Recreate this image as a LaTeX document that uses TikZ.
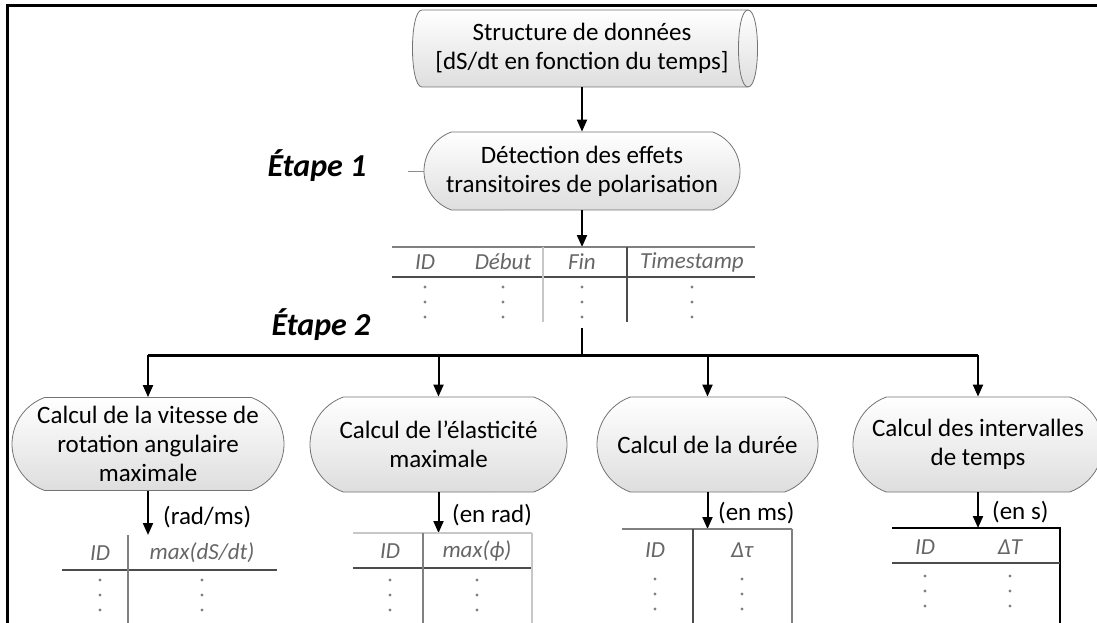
\documentclass[tikz,border=0pt]{standalone}
\usepackage{fontspec}
\setmainfont{Carlito}
\usetikzlibrary{shapes.misc,arrows.meta}
\newcommand\vdt[2]{\foreach \dy in {-15,0,15}{\fill[black!50] (#1,#2+\dy) circle (1.6);}}
\begin{document}
\begin{tikzpicture}[x=1pt,y=-1pt,
  term/.style={rounded rectangle, rounded rectangle arc length=140, draw=black!55, line width=0.8pt,
    top color=white, bottom color=black!13, align=center,
    font=\fontsize{25}{29}\selectfont, inner sep=0pt},
  arr/.style={-{Triangle[length=12pt,width=10pt]}, line width=2pt},
  hd/.style={font=\fontsize{23}{25}\selectfont\itshape, text=black!60, inner sep=0pt},
  unit/.style={font=\fontsize{25}{27}\selectfont, anchor=west, inner sep=0pt},
  etape/.style={font=\fontsize{32}{34}\selectfont\bfseries\itshape, inner sep=0pt},
  light/.style={draw=black!22, line width=2pt},
  mid/.style={draw=black!50, line width=2pt},
  dark/.style={draw=black!70, line width=2.5pt}
]
\useasboundingbox (0,0) rectangle (1097,623);
% frame
\draw[line width=3pt] (1097,6) -- (7,6) -- (7,623);

% data structure (cylinder)
\draw[draw=black!55, line width=0.8pt, top color=white, bottom color=black!13]
  (422,10) -- (748,10) .. controls (760.7,10) and (760.7,87) .. (748,87)
  -- (422,87) .. controls (409.3,87) and (409.3,10) .. (422,10) -- cycle;
\draw[draw=black!55, line width=0.8pt] (748,10) .. controls (735.3,10) and (735.3,87) .. (748,87);
\node[align=center, font=\fontsize{25}{29}\selectfont, minimum width=346pt, minimum height=77pt, inner sep=0pt]
  (data) at (582,48.5) {Structure de données\\{}[dS/dt en fonction du temps]};

% step 1
\node[term, minimum width=316pt, minimum height=78pt] (detect) at (582,171)
  {Détection des effets\\transitoires de polarisation};
\node[etape] (e1) at (317,166) {Étape 1};
\draw[draw=black!45, line width=1pt] (detect.west) -- ++(-16,0);
\draw[arr] (data.south) -- (detect.north);

% table 1
\coordinate (t1top) at (582,247);
\draw[arr] (detect.south) -- (t1top);
\draw[mid] (392,247) -- (755,247);
\draw[dark] (392,277) -- (755,277);
\draw[light] (543,247) -- (543,322);
\draw[dark, line width=2pt] (627,247) -- (627,322);
\node[hd] (c1) at (425,262) {ID};
\node[hd] (c2) at (503,262) {Début};
\node[hd] (c3) at (582,262) {Fin};
\node[hd] (c4) at (692,262) {Timestamp};
\vdt{425}{302}\vdt{503}{302}\vdt{582}{302}\vdt{692}{302}

% step 2
\node[etape] (e2) at (321,325) {Étape 2};
\coordinate (b0) at (582,328);
\coordinate (bj) at (582,355);
\node[term, minimum width=272pt, minimum height=93pt] (k1) at (148,444)
  {Calcul de la vitesse de\\rotation angulaire\\maximale};
\node[term, minimum width=257pt, minimum height=95pt] (k2) at (438.5,444.5)
  {Calcul de l'élasticité\\maximale};
\node[term, minimum width=221pt, minimum height=95pt] (k3) at (707.5,444.5)
  {Calcul de la durée};
\node[term, minimum width=250pt, minimum height=95pt] (k4) at (978,444.5)
  {Calcul des intervalles\\de temps};
\draw[line width=2.5pt] (b0) -- (bj);
\draw[line width=3pt] (k1.north |- bj) -- (k4.north |- bj);
\foreach \k in {k1,k2,k3,k4}{\draw[arr] (\k.north |- bj) -- (\k.north);}

% outputs of k1
\coordinate (o1) at (148,535);
\draw[arr] (k1.south) -- (o1);
\node[unit] (u1) at (163,517) {(rad/ms)};
\draw[dark, line width=2pt] (62,570) -- (277,570);
\draw[mid] (128,535) -- (128,623);
\node[hd] (d1a) at (100,553) {ID};
\node[hd] (d1b) at (202,553) {max(dS/dt)};
\vdt{100}{595}\vdt{202}{595}

% outputs of k2
\coordinate (o2) at (438.5,533);
\draw[arr] (k2.south) -- (o2);
\node[unit] (u2) at (452,515) {(en rad)};
\draw[light] (353,533) -- (532,533);
\draw[dark, line width=2pt] (353,568) -- (532,568);
\draw[mid] (423,533) -- (423,623);
\draw[light] (532,533) -- (532,623);
\node[hd] (d2a) at (390,551) {ID};
\node[hd] (d2b) at (477,551) {max(ϕ)};
\vdt{390}{595}\vdt{477}{595}

% outputs of k3
\coordinate (o3) at (707.5,529);
\draw[arr] (k3.south) -- (o3);
\node[unit] (u3) at (718,513) {(en ms)};
\draw[mid] (622,529) -- (792,529);
\draw[dark, line width=2pt] (693,529) -- (693,623);
\draw[mid] (792,529) -- (792,623);
\node[hd] (d3a) at (655,550) {ID};
\node[hd] (d3b) at (742,550) {Δτ};
\vdt{655}{594}\vdt{742}{594}

% outputs of k4
\coordinate (o4) at (978,528);
\draw[arr] (k4.south) -- (o4);
\node[unit] (u4) at (992,512) {(en s)};
\draw[line width=2pt] (892,528) -- (1060,528) -- (1060,623);
\draw[dark, line width=2pt] (892,563) -- (1060,563);
\node[hd] (d4a) at (925,547) {ID};
\node[hd] (d4b) at (1010,547) {ΔT};
\vdt{925}{591}\vdt{1010}{591}
\end{tikzpicture}
\end{document}
